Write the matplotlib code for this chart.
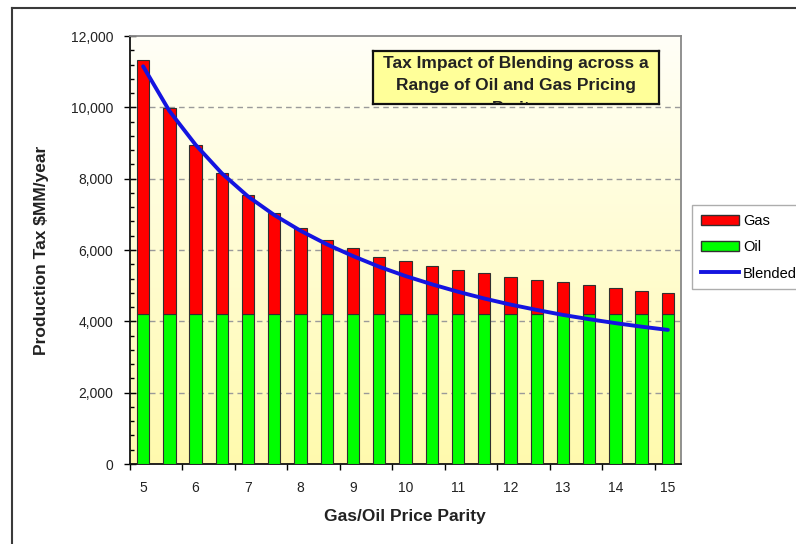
import numpy as np
import matplotlib.pyplot as plt
from matplotlib.patches import Patch
from matplotlib.lines import Line2D
from matplotlib.ticker import MultipleLocator, FuncFormatter

plt.rcParams['font.family'] = ['Liberation Sans', 'DejaVu Sans']

# Data ($MM/year)
parity = [5, 5.5, 6, 6.5, 7, 7.5, 8, 8.5, 9, 9.5, 10,
          10.5, 11, 11.5, 12, 12.5, 13, 13.5, 14, 14.5, 15]
oil = [4200] * 21
gas = [7130, 5770, 4750, 3970, 3350, 2840, 2430, 2090, 1850, 1610, 1490,
       1360, 1250, 1160, 1030, 970, 890, 810, 730, 660, 590]
blended = [11150, 9900, 8950, 8150, 7500, 6980, 6540, 6160, 5830, 5530, 5270,
           5040, 4830, 4640, 4470, 4320, 4180, 4060, 3950, 3850, 3760]
xtick_labels = ['5', '6', '7', '8', '9', '10', '11', '12', '13', '14', '15']

W, H = 796, 544
fig = plt.figure(figsize=(W / 100, H / 100), dpi=100)

# outer chart frame (cut off at right/bottom)
fig.add_artist(Line2D([12 / W, 12 / W], [0, 1 - 8 / H], transform=fig.transFigure,
                      color='#3a3a3a', lw=1.5))
fig.add_artist(Line2D([12 / W, 1], [1 - 8 / H, 1 - 8 / H], transform=fig.transFigure,
                      color='#3a3a3a', lw=1.5))

ax = fig.add_axes([130 / W, 1 - 464 / H, 551 / W, 428 / H])
x = np.arange(len(parity))

# white-to-pale-yellow gradient background
t = np.linspace(0, 1, 256)[:, None]
top = np.array([1.0, 1.0, 0.97])
bot = np.array([1.0, 0.98, 0.68])
grad = (top * (1 - t) + bot * t).reshape(256, 1, 3)
ax.imshow(grad, extent=[-0.5, 20.5, 0, 12000], aspect='auto', zorder=0)

for yv in range(2000, 12000, 2000):
    ax.axhline(yv, color='#9a9a9a', lw=1, dashes=(4, 3), zorder=1)

ax.bar(x, oil, width=0.47, color='#00FF00', edgecolor='#303030', lw=0.8, zorder=3)
ax.bar(x, gas, width=0.47, bottom=oil, color='#FF0000', edgecolor='#303030', lw=0.8, zorder=3)
ax.plot(x, blended, color='#1414E0', lw=2.8, zorder=4, solid_capstyle='round')

ax.set_xlim(-0.5, 20.5)
ax.set_ylim(0, 12000)
ax.set_xticks(np.arange(-0.5, 20, 2))
ax.set_xticklabels([])
ax.set_xticks(x[::2], minor=True)
ax.set_xticklabels(xtick_labels, minor=True, fontsize=10)
ax.tick_params(axis='x', which='major', direction='out', length=4, width=1)
ax.tick_params(axis='x', which='minor', length=0, pad=12, colors='#222222')

ax.yaxis.set_major_locator(MultipleLocator(2000))
ax.yaxis.set_minor_locator(MultipleLocator(400))
ax.yaxis.set_major_formatter(FuncFormatter(lambda v, p: f'{int(v):,}'))
ax.tick_params(axis='y', which='major', direction='inout', length=8, width=1, pad=8,
               labelsize=10, labelcolor='#222222')
ax.tick_params(axis='y', which='minor', direction='in', length=3, width=1)

for s in ['left', 'bottom']:
    ax.spines[s].set_color('#111111')
    ax.spines[s].set_linewidth(1.3)
for s in ['top', 'right']:
    ax.spines[s].set_color('#888888')
    ax.spines[s].set_linewidth(1.3)

fig.text(405 / W, 1 - 516 / H, 'Gas/Oil Price Parity', ha='center', va='center',
         fontsize=12.5, fontweight='bold', color='#222222')
fig.text(42 / W, 1 - 250 / H, r'Production Tax \$MM/year', rotation=90, ha='center',
         va='center', fontsize=12.5, fontweight='bold', color='#222222')

# title box, third line is clipped by the box
bax = fig.add_axes([373 / W, 1 - 104 / H, 286 / W, 53 / H])
bax.set_facecolor('#FFFF99')
bax.set_xticks([])
bax.set_yticks([])
for s in bax.spines.values():
    s.set_color('#111111')
    s.set_linewidth(1.6)
bax.text(0.5, 0.91, 'Tax Impact of Blending across a\nRange of Oil and Gas Pricing\nParity',
         ha='center', va='top', fontsize=12.5, fontweight='bold', linespacing=1.62,
         color='#222222', transform=bax.transAxes, clip_on=True)

handles = [Patch(facecolor='#FF0000', edgecolor='#303030'),
           Patch(facecolor='#00FF00', edgecolor='#303030'),
           Line2D([], [], color='#1414E0', lw=2.8)]
leg = fig.legend(handles, ['Gas', 'Oil', 'Blended'], loc='upper left',
                 bbox_to_anchor=(692 / W, 1 - 205 / H), frameon=True, fancybox=False,
                 edgecolor='#999999', fontsize=10.5, handlelength=2.6, borderpad=0.6,
                 labelspacing=0.85, handletextpad=0.3, borderaxespad=0)
leg.get_frame().set_linewidth(1.0)

fig.savefig('out.png', dpi=100)
